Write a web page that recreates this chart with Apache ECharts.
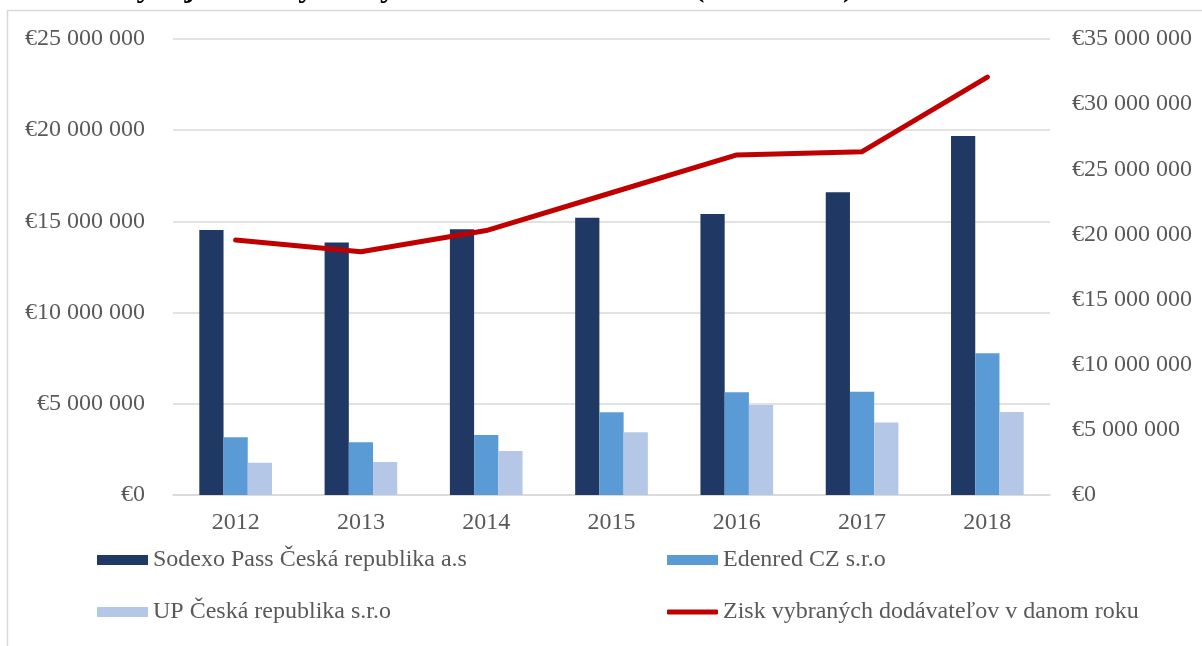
<!DOCTYPE html>
<html>
<head>
<meta charset="utf-8">
<script src="https://cdn.jsdelivr.net/npm/echarts@6/dist/echarts.min.js"></script>
<style>
  html, body { margin: 0; padding: 0; background: #fff; }
  #chart { width: 1202px; height: 646px; }
</style>
</head>
<body>
<div id="chart"></div>
<script>
// data
const years = ['2012', '2013', '2014', '2015', '2016', '2017', '2018']
const sodexo = [14530000, 13850000, 14570000, 15200000, 15410000, 16600000, 19680000]
const edenred = [3160000, 2890000, 3290000, 4530000, 5630000, 5660000, 7770000]
const upCr = [1770000, 1810000, 2410000, 3440000, 4930000, 3980000, 4550000]
const totalProfit = [19570000, 18670000, 20300000, 23200000, 26100000, 26350000, 32080000]

const seriesNames = [
  'Sodexo Pass Česká republika a.s',
  'Edenred CZ s.r.o',
  'UP Česká republika s.r.o',
  'Zisk vybraných dodávateľov v danom roku'
]

const font = '"Liberation Serif", "Times New Roman", serif'
const labelStyle = { color: '#595959', fontSize: 24, fontFamily: font }

function euro(v) {
  return '€' + String(v).replace(/\B(?=(\d{3})+(?!\d))/g, ' ')
}

const chart = echarts.init(document.getElementById('chart'))

function legendAt(name, left, top, extra) {
  return Object.assign({
    data: [name],
    left: left,
    top: top,
    padding: 0,
    itemWidth: 51,
    itemHeight: 10,
    icon: 'rect',
    textStyle: { ...labelStyle },
    selectedMode: false
  }, extra || {})
}

chart.setOption({
  animation: false,
  title: {
    text: 'Graf 6: Vývoj zisku vybraných dodávateľov v ČR (2012-2018)',
    left: 0,
    top: -33,
    textStyle: { fontFamily: font, fontSize: 32, fontWeight: 'bold', color: '#000' }
  },
  graphic: [{
    type: 'rect',
    shape: { x: 7.5, y: 10.5, width: 1210, height: 660 },
    style: { fill: 'none', stroke: '#d9d9d9', lineWidth: 1.5 },
    silent: true
  }],
  grid: { left: 173, right: 152, top: 39, bottom: 151 },
  legend: [
    legendAt(seriesNames[0], 97, 548),
    legendAt(seriesNames[1], 667, 548),
    legendAt(seriesNames[2], 97, 600),
    legendAt(seriesNames[3], 667, 600, { icon: 'roundRect', itemHeight: 5 })
  ],
  xAxis: {
    type: 'category',
    data: years,
    axisTick: { show: false },
    axisLine: { lineStyle: { color: '#d9d9d9', width: 1.5 } },
    axisLabel: { ...labelStyle, margin: 16 }
  },
  yAxis: [
    {
      type: 'value',
      min: 0,
      max: 25000000,
      interval: 5000000,
      axisLabel: { ...labelStyle, margin: 28, formatter: euro },
      splitLine: { lineStyle: { color: '#d9d9d9', width: 1.5 } },
      axisLine: { show: false },
      axisTick: { show: false }
    },
    {
      type: 'value',
      min: 0,
      max: 35000000,
      interval: 5000000,
      axisLabel: { ...labelStyle, margin: 22, formatter: euro },
      splitLine: { show: false },
      axisLine: { show: false },
      axisTick: { show: false }
    }
  ],
  series: [
    {
      name: seriesNames[0],
      type: 'bar',
      data: sodexo,
      barGap: '0%',
      barCategoryGap: '42%',
      itemStyle: { color: '#203864' }
    },
    {
      name: seriesNames[1],
      type: 'bar',
      data: edenred,
      itemStyle: { color: '#5B9BD5' }
    },
    {
      name: seriesNames[2],
      type: 'bar',
      data: upCr,
      itemStyle: { color: '#B4C7E7' }
    },
    {
      name: seriesNames[3],
      type: 'line',
      yAxisIndex: 1,
      data: totalProfit,
      showSymbol: false,
      symbol: 'none',
      lineStyle: { color: '#C00000', width: 5, cap: 'round' },
      itemStyle: { color: '#C00000' }
    }
  ]
})
</script>
</body>
</html>
